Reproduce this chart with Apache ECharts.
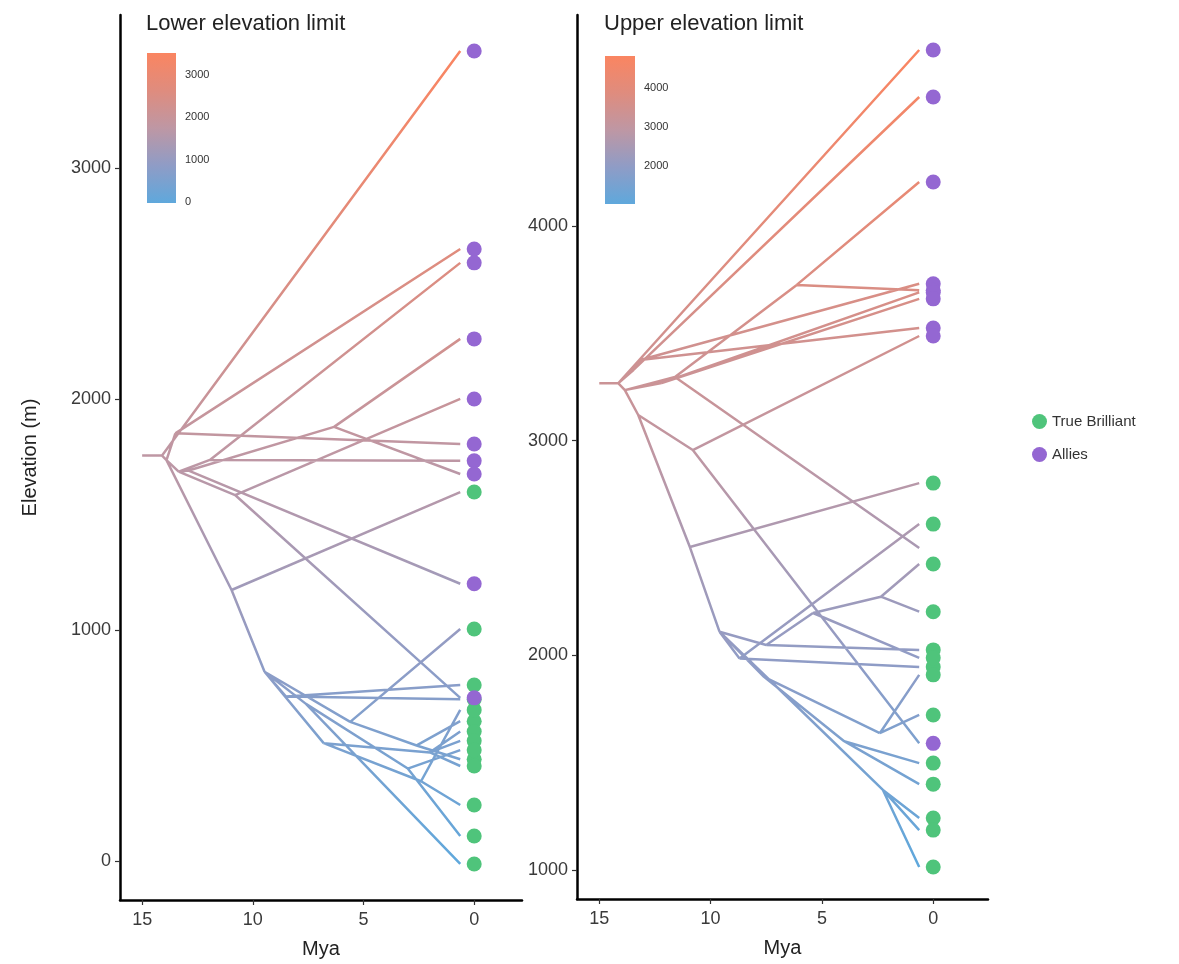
<!DOCTYPE html>
<html><head><meta charset="utf-8">
<script src="https://cdn.jsdelivr.net/npm/echarts@6/dist/echarts.min.js"></script>
<style>html,body{margin:0;padding:0;background:#fff}#c{width:1179px;height:964px}</style>
</head><body><div id="c"></div><script>
const FONT = '"Liberation Sans", Arial, sans-serif';
// ---- tick labels ----
const myaTicks = [0, 5, 10, 15];
const lowerYTicks = [0, 1000, 2000, 3000];
const upperYTicks = [1000, 2000, 3000, 4000];
const lowerBarTicks = [0, 1000, 2000, 3000];
const upperBarTicks = [2000, 3000, 4000];
const panelTitles = ['Lower elevation limit', 'Upper elevation limit'];
const groups = ['True Brilliant', 'Allies'];
const groupColors = ['#4FC47B', '#9467D2'];
const gradientColors = ['#5FA8DC', '#8F9CC6', '#BE97A4', '#DF8C7E', '#FA8561'];
const tipMya = 0.63;   // branch tips
const pointMya = 0;    // observed values
// ---- lower elevation limit tree: [node, parent, Mya, elevation] ----
const lowerNodes = [
  ['R', null, 15.0, 1755], ['N1', 'R', 14.1, 1755], ['M', 'N1', 13.9, 1735],
  ['A', 'M', 13.5, 1851], ['Q', 'M', 13.35, 1685], ['B', 'Q', 11.94, 1736],
  ['D', 'Q', 12.9, 1690], ['C', 'D', 6.33, 1879], ['E', 'Q', 10.8, 1584],
  ['H', 'M', 10.96, 1173], ['K', 'H', 9.47, 819], ['K1', 'K', 8.5, 712],
  ['K2', 'K', 5.6, 602], ['K6', 'K2', 2.6, 500], ['K3', 'K', 6.8, 510],
  ['K5', 'K3', 2.0, 470], ['K8', 'K3', 2.4, 345], ['K7', 'K', 7.6, 680],
  ['K9', 'K7', 3.0, 400]
];
// [parent, elevation, group index]
const lowerTips = [
  ['N1', 3506, 1], ['A', 2649, 1], ['A', 1805, 1], ['B', 2589, 1], ['B', 1732, 1],
  ['C', 2260, 1], ['C', 1675, 1], ['D', 1200, 1], ['E', 2000, 1], ['E', 706, 1],
  ['H', 1597, 0], ['K1', 762, 0], ['K1', 700, 0], ['K2', 1004, 0], ['K6', 605, 0],
  ['K6', 440, 0], ['K5', 560, 0], ['K5', 520, 0], ['K5', 411, 0], ['K8', 654, 0],
  ['K8', 242, 0], ['K9', 480, 0], ['K9', 108, 0], ['K7', -13, 0]
];
// ---- upper elevation limit tree ----
const upperNodes = [
  ['R', null, 15.0, 3267], ['N1', 'R', 14.15, 3267], ['U1', 'N1', 13.45, 3330],
  ['U2', 'U1', 13.17, 3375], ['M', 'N1', 13.85, 3235], ['U3', 'M', 11.6, 3296],
  ['U4', 'U3', 6.13, 3725], ['U8', 'M', 12.2, 3268], ['U5', 'M', 13.25, 3119],
  ['U6', 'U5', 10.8, 2956], ['H', 'U5', 10.93, 2504], ['T', 'H', 9.6, 2110],
  ['T1', 'T', 8.7, 1985], ['T2', 'T', 7.5, 2048], ['T3', 'T2', 5.4, 2197],
  ['T6', 'T3', 2.35, 2273], ['T4', 'T', 7.6, 1900], ['T7', 'T4', 2.4, 1637],
  ['T8', 'T4', 4.0, 1600], ['T9', 'T', 6.5, 1800], ['T10', 'T9', 2.26, 1373]
];
const upperTips = [
  ['N1', 4819, 1], ['U1', 4600, 1], ['U2', 3730, 1], ['U2', 3524, 1], ['U4', 4204, 1],
  ['U4', 3700, 1], ['U8', 3690, 1], ['U8', 3660, 1], ['U3', 2500, null], ['U6', 3487, 1],
  ['U6', 1590, 1], ['H', 2802, 0], ['T1', 2611, 0], ['T1', 1946, 0], ['T2', 2025, 0],
  ['T3', 1988, 0], ['T6', 2425, 0], ['T6', 2203, 0], ['T7', 1909, 0], ['T7', 1722, 0],
  ['T8', 1498, 0], ['T8', 1400, 0], ['T10', 1242, 0], ['T10', 1186, 0], ['T10', 1014, 0]
];

function branchData(nodes, tips) {
  const map = {};
  nodes.forEach(n => { map[n[0]] = n; });
  const out = [];
  nodes.forEach(n => {
    if (n[1] === null) return;
    const p = map[n[1]];
    out.push([p[2], p[3]], [n[2], n[3]], ['-', '-']);
  });
  tips.forEach(t => {
    const p = map[t[0]];
    out.push([p[2], p[3]], [tipMya, t[1]], ['-', '-']);
  });
  return out;
}
function pointData(tips, g) {
  return tips.filter(t => t[2] === g).map(t => [pointMya, t[1]]);
}
function range(nodes, tips) {
  const v = nodes.map(n => n[3]).concat(tips.map(t => t[1]));
  return [Math.min.apply(null, v), Math.max.apply(null, v)];
}
const lowerRange = range(lowerNodes, lowerTips);
const upperRange = range(upperNodes, upperTips);
const plain = v => String(v);

const chart = echarts.init(document.getElementById('c'), null, {renderer: 'canvas'});
const axisTxt = {color: '#3a3a3a', fontSize: 18, fontFamily: FONT, formatter: plain};
function xAx(idx, min) {
  return {
    type: 'value', gridIndex: idx, inverse: true, min: min, max: 16, position: 'bottom',
    name: 'Mya', nameLocation: 'middle', nameGap: 39,
    nameTextStyle: {color: '#222', fontSize: 20, fontFamily: FONT},
    axisLine: {onZero: false, lineStyle: {color: '#000', width: 2.5}},
    axisTick: {customValues: myaTicks, length: 5, lineStyle: {color: '#333', width: 1.2}},
    axisLabel: Object.assign({customValues: myaTicks, margin: 11}, axisTxt),
    splitLine: {show: false}
  };
}
function yAx(idx, min, max, ticks, name) {
  return {
    type: 'value', gridIndex: idx, min: min, max: max, position: 'left',
    name: name || '', nameLocation: 'middle', nameGap: 80, nameRotate: 90,
    nameTextStyle: {color: '#222', fontSize: 20, fontFamily: FONT},
    axisLine: {show: true, onZero: false, lineStyle: {color: '#000', width: 2.5}},
    axisTick: {show: true, customValues: ticks, length: 5, lineStyle: {color: '#333', width: 1.2}},
    axisLabel: Object.assign({customValues: ticks, margin: 9}, axisTxt),
    splitLine: {show: false}
  };
}
function barAxes(idx, rng, ticks) {
  return [
    {type: 'value', gridIndex: idx, min: 0, max: 1, show: false},
    {type: 'value', gridIndex: idx, min: rng[0], max: rng[1], position: 'right',
     axisLine: {show: false}, axisTick: {show: false}, splitLine: {show: false},
     axisLabel: {customValues: ticks, margin: 9, color: '#333', fontSize: 11, fontFamily: FONT, formatter: plain}}
  ];
}
const stops = gradientColors.map((c, i) => ({offset: 1 - i / (gradientColors.length - 1), color: c}));
function barSeries(idx, rng) {
  return {
    type: 'custom', xAxisIndex: idx, yAxisIndex: idx, silent: true,
    data: [[0, rng[0], rng[1]]], encode: {x: 0, y: [1, 2]},
    renderItem: function (params, api) {
      const p0 = api.coord([0, api.value(2)]);
      const p1 = api.coord([1, api.value(1)]);
      return {type: 'rect', shape: {x: p0[0], y: p0[1], width: p1[0] - p0[0], height: p1[1] - p0[1]},
        style: {fill: new echarts.graphic.LinearGradient(0, 0, 0, 1, stops)}};
    }
  };
}
const lb = barAxes(2, lowerRange, lowerBarTicks), ub = barAxes(3, upperRange, upperBarTicks);

const option = {
  animation: false,
  backgroundColor: '#fff',
  title: [
    {text: panelTitles[0], left: 141, top: 8, textStyle: {fontSize: 22, fontWeight: 'normal', color: '#222', fontFamily: FONT}},
    {text: panelTitles[1], left: 599, top: 8, textStyle: {fontSize: 22, fontWeight: 'normal', color: '#222', fontFamily: FONT}}
  ],
  grid: [
    {left: 120, top: 15, width: 402, height: 885},
    {left: 577, top: 15, width: 411, height: 884},
    {left: 147, top: 53, width: 29, height: 150},
    {left: 605, top: 56, width: 30, height: 148}
  ],
  xAxis: [xAx(0, -2.16), xAx(1, -2.46), lb[0], ub[0]],
  yAxis: [yAx(0, -169, 3662, lowerYTicks, 'Elevation (m)'), yAx(1, 865, 4982, upperYTicks), lb[1], ub[1]],
  visualMap: [
    {type: 'continuous', show: false, seriesIndex: 0, dimension: 1, min: lowerRange[0], max: lowerRange[1], inRange: {color: gradientColors}},
    {type: 'continuous', show: false, seriesIndex: 1, dimension: 1, min: upperRange[0], max: upperRange[1], inRange: {color: gradientColors}}
  ],
  legend: {
    data: groups, orient: 'vertical', left: 1027, top: 409, itemGap: 18,
    icon: 'circle', itemWidth: 15, itemHeight: 15,
    textStyle: {fontSize: 15, color: '#333', fontFamily: FONT}
  },
  series: [
    {type: 'line', xAxisIndex: 0, yAxisIndex: 0, data: branchData(lowerNodes, lowerTips), showSymbol: false, connectNulls: false, lineStyle: {width: 2.5}, silent: true, z: 2},
    {type: 'line', xAxisIndex: 1, yAxisIndex: 1, data: branchData(upperNodes, upperTips), showSymbol: false, connectNulls: false, lineStyle: {width: 2.5}, silent: true, z: 2},
    {type: 'scatter', name: groups[0], xAxisIndex: 0, yAxisIndex: 0, data: pointData(lowerTips, 0), symbolSize: 15, itemStyle: {color: groupColors[0], opacity: 1}, z: 3},
    {type: 'scatter', name: groups[1], xAxisIndex: 0, yAxisIndex: 0, data: pointData(lowerTips, 1), symbolSize: 15, itemStyle: {color: groupColors[1], opacity: 1}, z: 3},
    {type: 'scatter', name: groups[0], xAxisIndex: 1, yAxisIndex: 1, data: pointData(upperTips, 0), symbolSize: 15, itemStyle: {color: groupColors[0], opacity: 1}, z: 3},
    {type: 'scatter', name: groups[1], xAxisIndex: 1, yAxisIndex: 1, data: pointData(upperTips, 1), symbolSize: 15, itemStyle: {color: groupColors[1], opacity: 1}, z: 3},
    barSeries(2, lowerRange),
    barSeries(3, upperRange)
  ]
};
chart.setOption(option);
</script></body></html>
